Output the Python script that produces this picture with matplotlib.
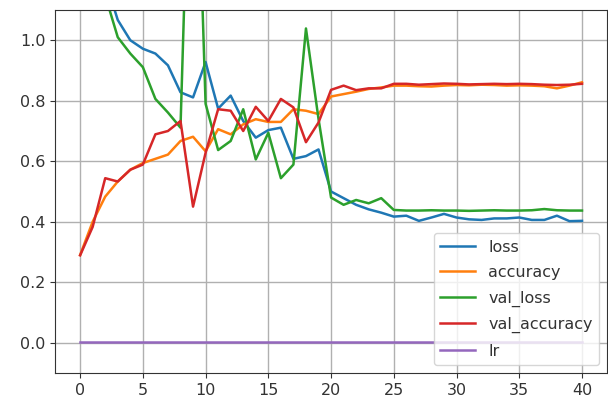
import matplotlib
matplotlib.use("Agg")
import matplotlib.pyplot as plt

# training history
epochs = list(range(41))

loss = [2.0, 1.45, 1.20, 1.067, 1.0, 0.972, 0.956, 0.917, 0.828, 0.811,
        0.928, 0.774, 0.817, 0.733, 0.678, 0.703, 0.711, 0.608, 0.617, 0.639,
        0.50, 0.478, 0.456, 0.441, 0.43, 0.417, 0.42, 0.403, 0.414, 0.426,
        0.414, 0.408, 0.406, 0.411, 0.411, 0.414, 0.406, 0.406, 0.42, 0.402,
        0.403]

accuracy = [0.29, 0.40, 0.483, 0.533, 0.572, 0.594, 0.608, 0.622, 0.667, 0.681,
            0.633, 0.706, 0.689, 0.722, 0.739, 0.73, 0.73, 0.772, 0.767, 0.756,
            0.814, 0.822, 0.83, 0.839, 0.844, 0.85, 0.85, 0.848, 0.847, 0.85,
            0.852, 0.851, 0.853, 0.852, 0.85, 0.851, 0.85, 0.848, 0.841, 0.85,
            0.861]

val_loss = [1.6, 1.3, 1.148, 1.01, 0.956, 0.911, 0.806, 0.761, 0.711, 2.1,
            0.79, 0.637, 0.667, 0.772, 0.606, 0.694, 0.544, 0.589, 1.039, 0.74,
            0.48, 0.456, 0.472, 0.461, 0.478, 0.439, 0.437, 0.437, 0.438, 0.437,
            0.437, 0.436, 0.437, 0.438, 0.437, 0.437, 0.438, 0.442, 0.438, 0.437,
            0.437]

val_accuracy = [0.289, 0.383, 0.544, 0.533, 0.572, 0.589, 0.689, 0.70, 0.733, 0.45,
                0.628, 0.772, 0.767, 0.70, 0.78, 0.733, 0.806, 0.778, 0.663, 0.728,
                0.836, 0.85, 0.835, 0.841, 0.841, 0.856, 0.856, 0.853, 0.855, 0.857,
                0.856, 0.854, 0.855, 0.856, 0.855, 0.856, 0.855, 0.853, 0.852, 0.853,
                0.856]

lr = [0.003] * 41

plt.rcParams['font.size'] = 11.5
plt.rcParams['text.color'] = '#333333'
plt.rcParams['xtick.color'] = '#333333'
plt.rcParams['ytick.color'] = '#333333'

fig = plt.figure(figsize=(6.08, 4.0), dpi=100)
ax = fig.add_axes([0.0905, 0.0675, 0.908, 0.9075])

ax.plot(epochs, loss, lw=1.8, label='loss')
ax.plot(epochs, accuracy, lw=1.8, label='accuracy')
ax.plot(epochs, val_loss, lw=1.8, label='val_loss')
ax.plot(epochs, val_accuracy, lw=1.8, label='val_accuracy')
ax.plot(epochs, lr, lw=1.8, label='lr')

ax.set_xlim(-2, 42)
ax.set_ylim(-0.1, 1.1)
ax.set_xticks(range(0, 41, 5))
ax.set_yticks([0.0, 0.2, 0.4, 0.6, 0.8, 1.0])
ax.grid(True, color='#b0b0b0', lw=1.0)
for s in ax.spines.values():
    s.set_color('#333333')
ax.legend(loc='lower right', labelspacing=0.65, handlelength=2.2)

fig.savefig('out.png')
